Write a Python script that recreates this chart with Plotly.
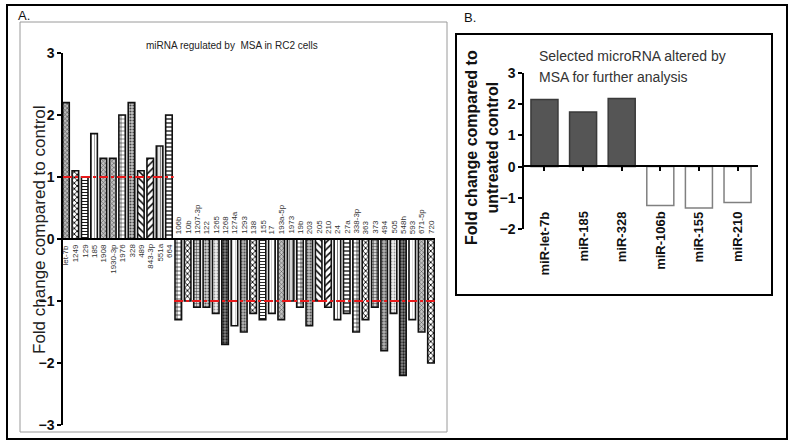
import plotly.graph_objects as go

# ---------------- Data ----------------
up_labels = ["let-7b", "1249", "129", "185", "1908", "1930-3p", "1976", "328",
             "489", "843-3p", "551a", "664"]
up_values = [2.2, 1.1, 1.0, 1.7, 1.3, 1.3, 2.0, 2.2, 1.1, 1.3, 1.5, 2.0]

down_labels = ["106b", "10b", "1207-3p", "122", "1265", "1268", "1274a", "1293",
               "138", "155", "17", "193a-5p", "1973", "19b", "203", "205", "210",
               "24", "27a", "338-3p", "363", "373", "494", "505", "548h", "593",
               "671-5p", "720"]
down_values = [-1.3, -1.0, -1.1, -1.1, -1.2, -1.7, -1.4, -1.5, -1.2, -1.3, -1.2,
               -1.3, -1.0, -1.1, -1.4, -1.0, -1.1, -1.3, -1.2, -1.5, -1.3, -1.1,
               -1.8, -1.2, -2.2, -1.3, -1.5, -2.0]

sel_labels = ["miR-let-7b", "miR-185", "miR-328", "miR-106b", "miR-155", "miR-210"]
sel_values = [2.15, 1.75, 2.18, -1.25, -1.33, -1.15]

thresholds = [1, -1]
y_ticks_a = [-3, -2, -1, 0, 1, 2, 3]
y_ticks_b = [-2, -1, 0, 1, 2, 3]

# ---------------- Styles ----------------
# (shape, fgcolor, bgcolor, size, solidity)
pat_up = [("x", "#444", "#bbb", 3, 0.35), ("x", "#000", "#fff", 4, 0.4),
          ("-", "#000", "#fff", 3, 0.3), ("|", "#888", "#fff", 3, 0.25),
          ("x", "#555", "#c4c4c4", 3, 0.35), ("x", "#555", "#c4c4c4", 3, 0.35),
          ("+", "#000", "#fff", 4, 0.22), (".", "#444", "#c8c8c8", 3, 0.4),
          ("\\", "#000", "#fff", 5, 0.3), ("/", "#000", "#fff", 5, 0.3),
          ("|", "#666", "#e4e4e4", 3, 0.25), ("-", "#000", "#fff", 4, 0.3)]
pat_down = [("+", "#000", "#fff", 4, 0.28), ("x", "#000", "#fff", 4, 0.4),
            ("+", "#333", "#d0d0d0", 3, 0.28), (".", "#555", "#cfcfcf", 3, 0.4),
            (".", "#999", "#f0f0f0", 3, 0.3), (".", "#222", "#888", 3, 0.45),
            ("|", "#c0c0c0", "#fff", 3, 0.25), (".", "#555", "#b4b4b4", 3, 0.4),
            ("x", "#000", "#fff", 4, 0.4), ("-", "#000", "#fff", 3, 0.28),
            ("|", "#c0c0c0", "#fff", 3, 0.25), ("x", "#555", "#c4c4c4", 3, 0.35),
            ("|", "#666", "#d4d4d4", 3, 0.25), ("+", "#000", "#fff", 4, 0.28),
            (".", "#555", "#c4c4c4", 3, 0.4), ("\\", "#000", "#fff", 5, 0.3),
            ("/", "#000", "#fff", 5, 0.3), ("|", "#555", "#fff", 3, 0.25),
            ("-", "#000", "#fff", 4, 0.3), ("+", "#000", "#fff", 4, 0.28),
            ("x", "#000", "#fff", 4, 0.4), ("+", "#333", "#d0d0d0", 3, 0.28),
            (".", "#555", "#b4b4b4", 3, 0.4), (".", "#999", "#f0f0f0", 3, 0.3),
            (".", "#222", "#888", 3, 0.45), ("|", "#d0d0d0", "#fff", 3, 0.25),
            ("x", "#555", "#c4c4c4", 3, 0.35), ("x", "#000", "#fff", 4, 0.4)]

FONT = "Liberation Sans, Arial, sans-serif"
W, H = 796, 448


def px(x):
    return x / W


def py(y):
    return 1 - y / H


all_labels = up_labels + down_labels
all_values = up_values + down_values
pats = pat_up + pat_down

fig = go.Figure()

fig.add_trace(go.Bar(
    x=all_labels, y=all_values, width=0.7,
    marker=dict(
        color="white",
        line=dict(color="#111", width=1.6),
        pattern=dict(shape=[p[0] for p in pats], fgcolor=[p[1] for p in pats],
                     bgcolor=[p[2] for p in pats], size=[p[3] for p in pats],
                     solidity=[p[4] for p in pats], fillmode="replace"),
    ),
    xaxis="x", yaxis="y", showlegend=False, hoverinfo="skip",
))

sel_fill = ["#555555" if v > 0 else "white" for v in sel_values]
sel_line = ["#3a3a3a" if v > 0 else "#808080" for v in sel_values]
fig.add_trace(go.Bar(
    x=sel_labels, y=sel_values, width=0.7,
    marker=dict(color=sel_fill, line=dict(color=sel_line, width=1.5)),
    xaxis="x2", yaxis="y2", showlegend=False, hoverinfo="skip",
))

n_up = len(up_labels)
n_all = len(all_labels)

annotations = []
# category labels, panel A (positioned by category index)
for i, (lab, v) in enumerate(zip(all_labels, all_values)):
    annotations.append(dict(
        x=i, y=0, xref="x", yref="y", text=lab, showarrow=False,
        textangle=-90, font=dict(family=FONT, size=8, color="#333"),
        xanchor="center", yanchor="top" if v > 0 else "bottom",
        yshift=-3 if v > 0 else 3,
    ))
# category labels, panel B
for i, lab in enumerate(sel_labels):
    annotations.append(dict(
        x=i, y=py(209), xref="x2", yref="paper", text=lab, showarrow=False,
        textangle=-90, font=dict(family=FONT, size=13, color="#111", weight="bold"),
        xanchor="center", yanchor="top",
    ))

annotations += [
    dict(x=px(40), y=py(230), xref="paper", yref="paper", showarrow=False,
         xanchor="center", yanchor="middle",
         text="Fold change compared to control", textangle=-90,
         font=dict(family=FONT, size=17, color="#222")),
    dict(x=px(232), y=py(45), xref="paper", yref="paper", showarrow=False,
         xanchor="center", yanchor="middle",
         text="miRNA regulated by  MSA in RC2 cells",
         font=dict(family=FONT, size=10, color="#222")),
    dict(x=px(16), y=py(15), xref="paper", yref="paper", showarrow=False,
         xanchor="left", yanchor="middle",
         text="A.", font=dict(family=FONT, size=13, color="#111")),
    dict(x=px(462), y=py(18), xref="paper", yref="paper", showarrow=False,
         xanchor="left", yanchor="middle",
         text="B.", font=dict(family=FONT, size=13, color="#111")),
    dict(x=px(482), y=py(148), xref="paper", yref="paper", showarrow=False,
         xanchor="center", yanchor="middle",
         text="Fold change compared to<br>untreated control", textangle=-90,
         font=dict(family=FONT, size=16, color="#111", weight="bold")),
    dict(x=px(537), y=py(56), xref="paper", yref="paper", showarrow=False,
         xanchor="left", yanchor="middle", text="Selected microRNA altered by",
         font=dict(family=FONT, size=14, color="#333")),
    dict(x=px(537), y=py(77), xref="paper", yref="paper", showarrow=False,
         xanchor="left", yanchor="middle", text="MSA for further analysis",
         font=dict(family=FONT, size=14, color="#333")),
]

shapes = [
    # outer frame
    dict(type="rect", xref="paper", yref="paper", x0=px(7), x1=px(787), y0=py(439), y1=py(5),
         line=dict(color="black", width=2)),
    # panel A box
    dict(type="rect", xref="paper", yref="paper", x0=px(20), x1=px(447), y0=py(432), y1=py(22),
         line=dict(color="#9a9a9a", width=1)),
    # panel B box
    dict(type="rect", xref="paper", yref="paper", x0=px(456), x1=px(772), y0=py(295), y1=py(34),
         line=dict(color="black", width=2)),
    # threshold lines
    dict(type="line", xref="x", yref="y", x0=-0.32, x1=n_up - 0.5, y0=thresholds[0], y1=thresholds[0],
         line=dict(color="#e8191a", width=2, dash="dashdot")),
    dict(type="line", xref="x", yref="y", x0=n_up - 0.45, x1=n_all - 0.6, y0=thresholds[1], y1=thresholds[1],
         line=dict(color="#e8191a", width=2, dash="dashdot")),
]

fig.update_layout(
    width=W, height=H, margin=dict(l=0, r=0, t=0, b=0, pad=0, autoexpand=False),
    paper_bgcolor="white", plot_bgcolor="rgba(0,0,0,0)",
    bargap=0.3, showlegend=False,
    xaxis=dict(domain=[px(63), px(435)], range=[-0.32, n_all - 0.57], type="category",
               categoryorder="array", categoryarray=all_labels, automargin=False,
               anchor="free", position=py(239), showline=True, linecolor="black",
               linewidth=1.5, ticks="", showticklabels=False, showgrid=False, zeroline=False),
    yaxis=dict(domain=[py(425), py(53)], range=[-3, 3], anchor="x", tickvals=y_ticks_a,
               automargin=False,
               ticks="outside", ticklen=4, tickwidth=1.5, tickcolor="black",
               showline=True, linecolor="black", linewidth=1.5, showgrid=False, zeroline=False,
               tickfont=dict(family=FONT, size=14, color="#111", weight="bold")),
    xaxis2=dict(domain=[px(524), px(758)], range=[-0.53, 5.53], type="category",
                categoryorder="array", categoryarray=sel_labels, automargin=False,
                anchor="free", position=py(166), showline=True, linecolor="black",
                linewidth=1.5, ticks="outside", ticklen=4, tickwidth=1.5, tickcolor="black",
                showticklabels=False, showgrid=False, zeroline=False),
    yaxis2=dict(domain=[py(229), py(73)], range=[-2, 3], anchor="x2", tickvals=y_ticks_b,
                automargin=False,
                ticks="outside", ticklen=4, tickwidth=1.5, tickcolor="black",
                showline=True, linecolor="black", linewidth=1.5, showgrid=False, zeroline=False,
                tickfont=dict(family=FONT, size=14, color="#111", weight="bold")),
    annotations=annotations, shapes=shapes,
)

fig.write_html("out.html", config={"displayModeBar": False},
               post_script="document.body.style.margin='0px';")
